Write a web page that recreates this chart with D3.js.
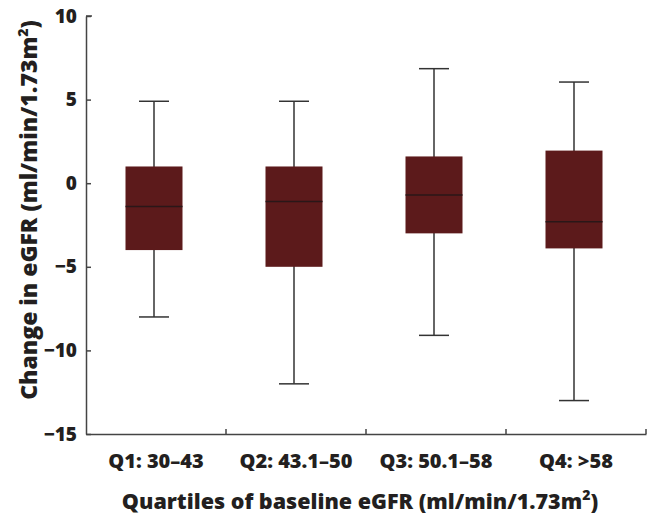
<!DOCTYPE html>
<html>
<head>
<meta charset="utf-8">
<script src="https://cdn.jsdelivr.net/npm/d3@7"></script>
<style>
  html, body { margin: 0; padding: 0; background: #fff; }
  svg { display: block; }
  text { font-family: "Open Sans", Lato, sans-serif; font-weight: 800; fill: #231f20; }
</style>
</head>
<body>
<svg id="chart" width="651" height="517"></svg>
<script>
const categories = ["Q1: 30–43", "Q2: 43.1–50", "Q3: 50.1–58", "Q4: >58"];
const whiskerLow  = [-8.0, -12.0, -9.1, -13.0];
const boxLow      = [-4.0, -5.0, -3.0, -3.9];
const medians     = [-1.4, -1.1, -0.7, -2.3];
const boxHigh     = [1.0, 1.0, 1.6, 1.95];
const whiskerHigh = [4.9, 4.9, 6.85, 6.05];
const yTicks = [10, 5, 0, -5, -10, -15];

const svg = d3.select("#chart");
const mLeft = 86, mRight = 646, mTop = 16, mBottom = 434;
const FONT = "'Open Sans', Lato, sans-serif";

const x = d3.scaleBand().domain(categories).range([mLeft, mRight]).paddingInner(0).paddingOuter(0);
const y = d3.scaleLinear().domain([-15, 10]).range([mBottom, mTop]);

const boxW = 57, capW = 30, shift = -2;
const data = categories.map((c, i) => ({
  c, lo: whiskerLow[i], q1: boxLow[i], med: medians[i], q3: boxHigh[i], hi: whiskerHigh[i]
}));

const g = svg.append("g");
data.forEach(d => {
  const cx = x(d.c) + x.bandwidth() / 2 + shift;
  g.append("line").attr("x1", cx).attr("x2", cx).attr("y1", y(d.hi)).attr("y2", y(d.lo))
    .attr("stroke", "#333").attr("stroke-width", 1.5);
  [d.hi, d.lo].forEach(v => {
    g.append("line").attr("x1", cx - capW / 2).attr("x2", cx + capW / 2)
      .attr("y1", y(v)).attr("y2", y(v)).attr("stroke", "#333").attr("stroke-width", 1.5);
  });
  g.append("rect").attr("x", cx - boxW / 2).attr("width", boxW)
    .attr("y", y(d.q3)).attr("height", y(d.q1) - y(d.q3)).attr("fill", "#5c1a1b");
  g.append("line").attr("x1", cx - boxW / 2).attr("x2", cx + boxW / 2)
    .attr("y1", y(d.med)).attr("y2", y(d.med)).attr("stroke", "#2a1718").attr("stroke-width", 1.5);
});

// Y axis
const yAxis = d3.axisLeft(y).tickValues(yTicks).tickSizeInner(-5).tickSizeOuter(0)
  .tickPadding(9).tickFormat(d => d < 0 ? "\u2212" + Math.abs(d) : d);
const ya = svg.append("g").attr("transform", `translate(${mLeft},0)`).call(yAxis);
ya.select(".domain").attr("stroke", "#444").attr("stroke-width", 1.5);
ya.selectAll(".tick line").attr("stroke", "#444").attr("stroke-width", 1.5);
ya.selectAll(".tick text").style("font-size", "19px").style("font-family", FONT).style("font-weight", 800).attr("fill", "#231f20");

// X axis
const xAxis = d3.axisBottom(x).tickSize(0).tickPadding(20);
const xa = svg.append("g").attr("transform", `translate(0,${mBottom})`).call(xAxis);
xa.select(".domain").attr("stroke", "#444").attr("stroke-width", 1.5);
xa.selectAll(".tick text").style("font-size", "20px").style("font-family", FONT).style("font-weight", 800).attr("fill", "#231f20");
const boundaries = categories.map(c => x(c) + x.bandwidth());
xa.selectAll(".bound").data(boundaries).enter().append("line")
  .attr("x1", d => d).attr("x2", d => d).attr("y1", 0).attr("y2", -5)
  .attr("stroke", "#444").attr("stroke-width", 1.5);
svg.append("line").attr("x1", mLeft).attr("x2", mLeft + 6).attr("y1", mTop).attr("y2", mTop)
  .attr("stroke", "#444").attr("stroke-width", 1.5);

// Axis titles
const xt = svg.append("text").attr("x", 360).attr("y", 509).attr("text-anchor", "middle")
  .style("font-size", "21.5px");
xt.append("tspan").text("Quartiles of baseline eGFR (ml/min/1.73m");
xt.append("tspan").attr("dy", -9).style("font-size", "14px").text("2");
xt.append("tspan").attr("dy", 9).text(")");

const yt = svg.append("text").attr("transform", "translate(37,210) rotate(-90)")
  .attr("text-anchor", "middle").style("font-size", "23px");
yt.append("tspan").text("Change in eGFR (ml/min/1.73m");
yt.append("tspan").attr("dy", -9).style("font-size", "14px").text("2");
yt.append("tspan").attr("dy", 9).text(")");
</script>
</body>
</html>
